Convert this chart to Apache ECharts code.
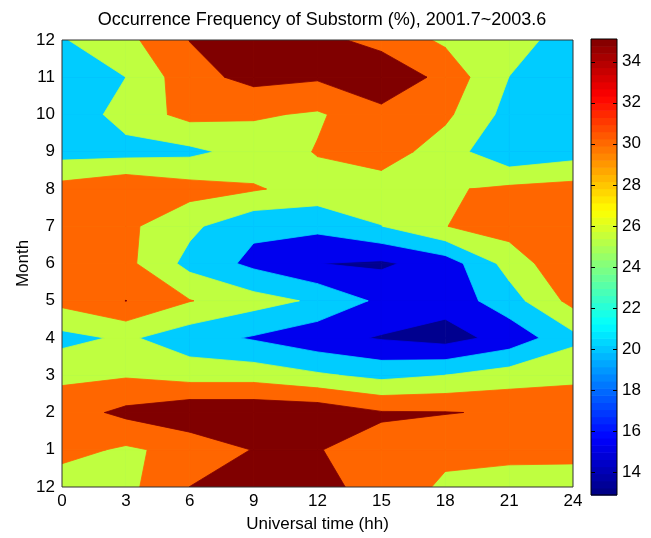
<!DOCTYPE html>
<html>
<head>
<meta charset="utf-8">
<script src="https://cdn.jsdelivr.net/npm/echarts@6/dist/echarts.min.js"></script>
<style>
  html, body { margin: 0; padding: 0; background: #fff; }
  #chart { width: 651px; height: 538px; }
</style>
</head>
<body>
<div id="chart"></div>
<script>
// universal time (hh), one column each
const hours = [0, 3, 6, 9, 12, 15, 18, 21, 24];
// months from Dec (bottom) round to Dec (top)
const monthLabels = ['12', '1', '2', '3', '4', '5', '6', '7', '8', '9', '10', '11', '12'];
// contour levels and the fill of each band (below 15 ... above 35)
const levels = [15, 20, 25, 30, 35];
const bandColors = ['#00008F', '#0000EF', '#00CCFF', '#BFFF40', '#FF6600', '#800000'];
// occurrence frequency (%), row = month (bottom -> top), column = hour
const freq = [
  [27.0, 28.6, 35.05, 37.0, 36.0, 33.7, 29.0, 27.8, 27.55],
  [31.8, 29.2, 31.6, 35.2, 35.1, 34.0, 31.4, 31.5, 31.5],
  [32.6, 36.2, 38.8, 38.8, 38.4, 35.35, 35.2, 34.5, 30.7],
  [29.0, 29.5, 27.9, 27.9, 25.7, 23.6, 25.0, 27.3, 29.75],
  [23.4, 25.8, 22.0, 19.5, 16.6, 14.6, 13.0, 16.85, 23.5],
  [31.5, 35.05, 30.2, 27.0, 24.2, 18.9, 16.96, 22.8, 31.6],
  [33.0, 31.35, 23.4, 18.8, 15.05, 14.2, 17.3, 26.9, 34.65],
  [33.0, 31.1, 26.1, 21.0, 21.3, 24.9, 29.9, 32.2, 33.0],
  [31.9, 34.4, 32.0, 30.5, 28.0, 27.5, 29.4, 31.0, 31.9],
  [23.0, 23.1, 23.8, 27.0, 30.3, 32.5, 27.5, 20.8, 22.8],
  [21.0, 27.2, 31.5, 30.6, 29.4, 33.25, 31.0, 23.3, 21.0],
  [22.0, 25.0, 33.2, 36.5, 35.6, 39.5, 33.2, 24.95, 21.0],
  [24.6, 28.6, 35.1, 37.0, 36.7, 33.0, 29.2, 27.0, 22.8]
];
// colorbar
const cbMin = 12.9, cbMax = 35.1;
const cbTicks = [14, 16, 18, 20, 22, 24, 26, 28, 30, 32, 34];

let chart = echarts.init(document.getElementById('chart'));

// jet colormap, 64 steps like matlab
function jet(k) {
  let t = (k + 0.5) / 64;
  let f = function (c) { return Math.round(255 * Math.max(0, Math.min(1, c))); };
  let r = f(1.5 - Math.abs(4 * t - 3));
  let g = f(1.5 - Math.abs(4 * t - 2));
  let b = f(1.5 - Math.abs(4 * t - 1));
  return 'rgb(' + r + ',' + g + ',' + b + ')';
}

function cut(a, b, L) {
  let t = (L - a.v) / (b.v - a.v);
  return { x: a.x + t * (b.x - a.x), y: a.y + t * (b.y - a.y), v: L };
}

// part(s) of a cell where value >= L, linear along the edges
function clipCell(pts, L) {
  let inside = pts.map(function (p) { return p.v >= L; });
  let saddle = (inside[0] && inside[2] && !inside[1] && !inside[3]) ||
               (inside[1] && inside[3] && !inside[0] && !inside[2]);
  let avg = (pts[0].v + pts[1].v + pts[2].v + pts[3].v) / 4;
  if (saddle && avg < L) {
    // two separate corners
    let polys = [];
    for (let n = 0; n < 4; n++) {
      if (!inside[n]) continue;
      let a = pts[n], prev = pts[(n + 3) % 4], next = pts[(n + 1) % 4];
      polys.push([cut(prev, a, L), a, cut(a, next, L)]);
    }
    return polys;
  }
  let out = [];
  for (let n = 0; n < 4; n++) {
    let a = pts[n], b = pts[(n + 1) % 4];
    if (inside[n]) out.push(a);
    if (inside[n] !== inside[(n + 1) % 4]) out.push(cut(a, b, L));
  }
  return out.length >= 3 ? [out] : [];
}

let cells = [];
for (let j = 0; j < freq.length - 1; j++) {
  for (let i = 0; i < hours.length - 1; i++) {
    cells.push([hours[i], j, i, j]);
  }
}

function bandRender(k) {
  return function (params, api) {
    let i = api.value(2), j = api.value(3);
    let poly = [
      { x: hours[i], y: j, v: freq[j][i] },
      { x: hours[i + 1], y: j, v: freq[j][i + 1] },
      { x: hours[i + 1], y: j + 1, v: freq[j + 1][i + 1] },
      { x: hours[i], y: j + 1, v: freq[j + 1][i] }
    ];
    let polys = k > 0 ? clipCell(poly, levels[k - 1]) : [poly];
    if (!polys.length) return null;
    return {
      type: 'group',
      children: polys.map(function (pp) {
        return {
          type: 'polygon',
          shape: { points: pp.map(function (p) { return api.coord([p.x, p.y]); }) },
          style: { fill: bandColors[k], stroke: bandColors[k], lineWidth: 0.8 }
        };
      })
    };
  };
}

let series = [];
for (let k = 0; k < bandColors.length; k++) {
  series.push({
    type: 'custom',
    xAxisIndex: 0,
    yAxisIndex: 0,
    z: 3 + k,
    clip: true,
    silent: true,
    renderItem: bandRender(k),
    data: cells
  });
}

let cbSteps = [];
for (let k = 0; k < 64; k++) cbSteps.push([0.5, k]);
series.push({
  type: 'custom',
  xAxisIndex: 1,
  yAxisIndex: 1,
  z: 3,
  silent: true,
  renderItem: function (params, api) {
    let k = api.value(1);
    let step = (cbMax - cbMin) / 64;
    let p0 = api.coord([0, cbMin + (k + 1) * step]);
    let p1 = api.coord([1, cbMin + k * step]);
    return {
      type: 'rect',
      shape: { x: p0[0], y: p0[1], width: p1[0] - p0[0], height: p1[1] - p0[1] + 0.6 },
      style: { fill: jet(k) }
    };
  },
  data: cbSteps
});

// colorbar ticks, pointing in from both edges
series.push({
  type: 'custom',
  xAxisIndex: 1,
  yAxisIndex: 1,
  z: 10,
  silent: true,
  renderItem: function (params, api) {
    let v = api.value(1);
    let l = api.coord([0, v]), r = api.coord([1, v]);
    let y = Math.round(l[1]) + 0.5;
    let st = { stroke: '#000', lineWidth: 1 };
    return {
      type: 'group',
      children: [
        { type: 'line', shape: { x1: l[0], y1: y, x2: l[0] + 4, y2: y }, style: st },
        { type: 'line', shape: { x1: r[0] - 4, y1: y, x2: r[0], y2: y }, style: st }
      ]
    };
  },
  data: cbTicks.map(function (v) { return [0.5, v]; })
});

let txt = { color: '#000', fontFamily: 'Liberation Sans', fontSize: 17 };

let option = {
  backgroundColor: '#fff',
  animation: false,
  title: {
    text: 'Occurrence Frequency of Substorm (%), 2001.7~2003.6',
    left: 317,
    top: 6,
    textAlign: 'center',
    textStyle: { color: '#000', fontFamily: 'Liberation Sans', fontSize: 18, fontWeight: 'normal' }
  },
  grid: [
    { left: 62, right: 78, top: 40, bottom: 44, show: true, borderColor: '#333', borderWidth: 1, z: 20 },
    { left: 591, width: 26, top: 39, bottom: 43, show: true, borderColor: '#000', borderWidth: 1, z: 20 }
  ],
  xAxis: [
    {
      type: 'value', gridIndex: 0, min: 0, max: 24, interval: 3,
      name: 'Universal time (hh)', nameLocation: 'middle', nameGap: 29,
      nameMoveOverlap: false,
      nameTextStyle: txt,
      axisLine: { show: false }, axisTick: { show: false }, splitLine: { show: false },
      axisLabel: Object.assign({ margin: 6 }, txt)
    },
    {
      type: 'value', gridIndex: 1, min: 0, max: 1, show: false
    }
  ],
  yAxis: [
    {
      type: 'value', gridIndex: 0, min: 0, max: 12, interval: 1,
      name: 'Month', nameLocation: 'middle', nameGap: 30,
      nameMoveOverlap: false,
      nameTextStyle: txt,
      axisLine: { show: false }, axisTick: { show: false }, splitLine: { show: false },
      axisLabel: Object.assign({ margin: 7, formatter: function (v) { return monthLabels[v]; } }, txt)
    },
    {
      type: 'value', gridIndex: 1, min: cbMin, max: cbMax, position: 'right',
      axisLine: { show: false }, splitLine: { show: false }, axisTick: { show: false },
      axisLabel: Object.assign({ margin: 5, customValues: cbTicks }, txt)
    }
  ],
  series: series
};

chart.setOption(option);
</script>
</body>
</html>
